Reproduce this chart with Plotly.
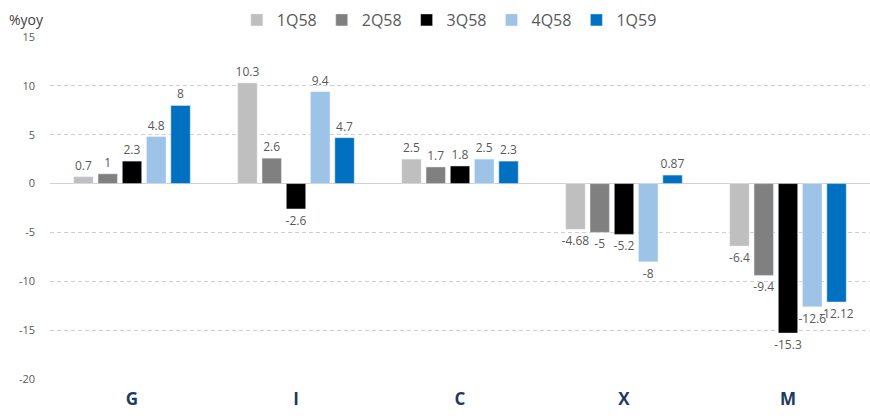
import plotly.graph_objects as go

categories = ["G", "I", "C", "X", "M"]
series_names = ["1Q58", "2Q58", "3Q58", "4Q58", "1Q59"]
q1_58 = [0.7, 10.3, 2.5, -4.68, -6.4]
q2_58 = [1, 2.6, 1.7, -5, -9.4]
q3_58 = [2.3, -2.6, 1.8, -5.2, -15.3]
q4_58 = [4.8, 9.4, 2.5, -8, -12.6]
q1_59 = [8, 4.7, 2.3, 0.87, -12.12]
series_values = [q1_58, q2_58, q3_58, q4_58, q1_59]
colors = ["#BFBFBF", "#808080", "#000000", "#9DC3E6", "#0070C0"]
y_ticks = [15, 10, 5, 0, -5, -10, -15, -20]

fig = go.Figure()
for name, vals, col in zip(series_names, series_values, colors):
    fig.add_trace(go.Bar(
        x=categories, y=vals, name=name, marker_color=col,
        text=[str(v) for v in vals], textposition="outside",
        outsidetextfont=dict(size=12, color="#595959", family="Open Sans"),
        cliponaxis=False,
    ))

fig.update_layout(
    width=870, height=416,
    margin=dict(l=50, r=0, t=37, b=37),
    plot_bgcolor="white", paper_bgcolor="white",
    barmode="group", bargap=0.26, bargroupgap=0.2,
    uniformtext=dict(minsize=12, mode="show"),
    font=dict(family="Open Sans", color="#595959"),
    showlegend=True,
    legend=dict(orientation="h", x=0.487, xanchor="center", y=1.0, yanchor="bottom",
                font=dict(size=16, color="#595959"), itemwidth=30,
                traceorder="normal"),
    yaxis=dict(range=[-20, 15], tickvals=y_ticks, ticktext=[str(t) for t in y_ticks],
               showgrid=True, gridcolor="#D0D0D0", griddash="4px,3px", gridwidth=1,
               zeroline=True, zerolinecolor="#D0D0D0", zerolinewidth=1,
               tickfont=dict(size=11, color="#595959"), ticks="",
               ticklabelstandoff=14),
    xaxis=dict(tickfont=dict(size=17, color="#1F3864", family="Open Sans"),
               showline=False, ticks="", ticklabelstandoff=8,
               tickvals=categories, ticktext=["<b>%s</b>" % c for c in categories]),
    annotations=[dict(text="%yoy", x=0, y=1, xref="paper", yref="paper",
                      xanchor="right", yanchor="bottom", xshift=-4, yshift=6,
                      showarrow=False, font=dict(size=14, color="#404040"))],
)
fig.write_html("out.html")
